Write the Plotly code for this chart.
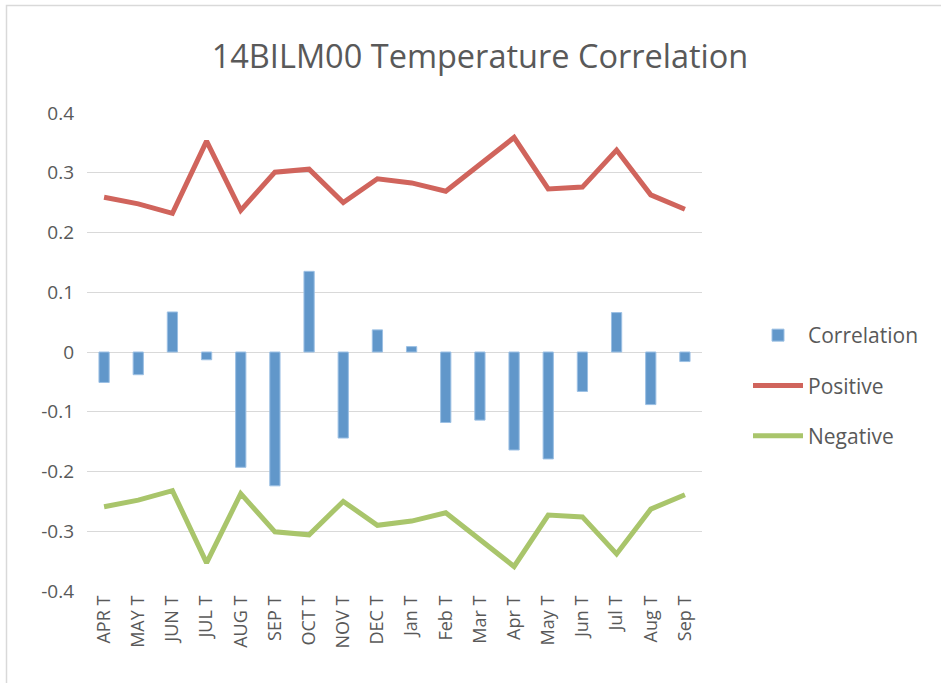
import plotly.graph_objects as go

categories = ["APR T", "MAY T", "JUN T", "JUL T", "AUG T", "SEP T", "OCT T", "NOV T", "DEC T",
              "Jan T", "Feb T", "Mar T", "Apr T", "May T", "Jun T", "Jul T", "Aug T", "Sep T"]
correlation = [-0.051, -0.038, 0.067, -0.013, -0.193, -0.224, 0.135, -0.144, 0.037,
               0.009, -0.118, -0.114, -0.164, -0.179, -0.066, 0.066, -0.088, -0.016]
positive = [0.259, 0.248, 0.232, 0.353, 0.237, 0.301, 0.306, 0.250, 0.290,
            0.283, 0.269, 0.314, 0.359, 0.273, 0.276, 0.338, 0.263, 0.239]
negative = [-0.259, -0.248, -0.232, -0.353, -0.237, -0.301, -0.306, -0.250, -0.290,
            -0.283, -0.269, -0.314, -0.359, -0.273, -0.276, -0.338, -0.263, -0.239]
y_ticks = [0.4, 0.3, 0.2, 0.1, 0, -0.1, -0.2, -0.3, -0.4]
y_tick_labels = ["0.4", "0.3", "0.2", "0.1", "0", "-0.1", "-0.2", "-0.3", "-0.4"]

FONT = "Open Sans"
TXT = "#595959"

fig = go.Figure()
fig.add_trace(go.Bar(x=categories, y=correlation, name="Correlation",
                     marker=dict(color="#6197CA", line=dict(color="#9CC0E4", width=1)),
                     legendgroup="a"))
fig.add_trace(go.Scatter(x=categories, y=positive, name="Positive", mode="lines",
                         line=dict(color="#D0645C", width=5), legendgroup="b"))
fig.add_trace(go.Scatter(x=categories, y=negative, name="Negative", mode="lines",
                         line=dict(color="#A9C56B", width=5), legendgroup="c"))

W, H = 941, 683
L, R, T, B = 87, 239, 113, 92
pw, ph = W - L - R, H - T - B
def px_x(p):
    return (p - L) / pw
def px_y(p):
    return (H - B - p) / ph

fig.add_shape(type="rect", xref="paper", yref="paper",
              x0=px_x(6.5), x1=px_x(1200), y0=px_y(5.5), y1=px_y(1000),
              line=dict(color="#d9d9d9", width=1.5), fillcolor="rgba(0,0,0,0)", layer="below")

fig.update_layout(
    width=W, height=H,
    margin=dict(l=L, r=R, t=T, b=B, pad=0),
    paper_bgcolor="white", plot_bgcolor="white",
    title=dict(text="14BILM00 Temperature Correlation", x=(480) / W, xanchor="center",
               y=1 - 57 / H, yanchor="middle",
               font=dict(family=FONT, size=32.5, color=TXT)),
    bargap=0.7,
    showlegend=True,
    legend=dict(x=px_x(748), xanchor="left", y=px_y(315), yanchor="top",
                font=dict(family=FONT, size=21, color=TXT),
                itemwidth=50, tracegroupgap=20, bgcolor="rgba(0,0,0,0)"),
    xaxis=dict(type="category", tickangle=-90, showgrid=False, showline=False, ticks="",
               tickfont=dict(family=FONT, size=18, color=TXT)),
    yaxis=dict(range=[-0.4, 0.4], tickvals=y_ticks, ticktext=y_tick_labels,
               showgrid=True, gridcolor="#d9d9d9", gridwidth=1.3,
               zeroline=True, zerolinecolor="#d9d9d9", zerolinewidth=1.3,
               showline=False, ticks="", ticklabelstandoff=12,
               tickfont=dict(family=FONT, size=19, color=TXT)),
)

fig.write_html("out.html", config={"displayModeBar": False},
               post_script="document.body.style.margin='0';")
